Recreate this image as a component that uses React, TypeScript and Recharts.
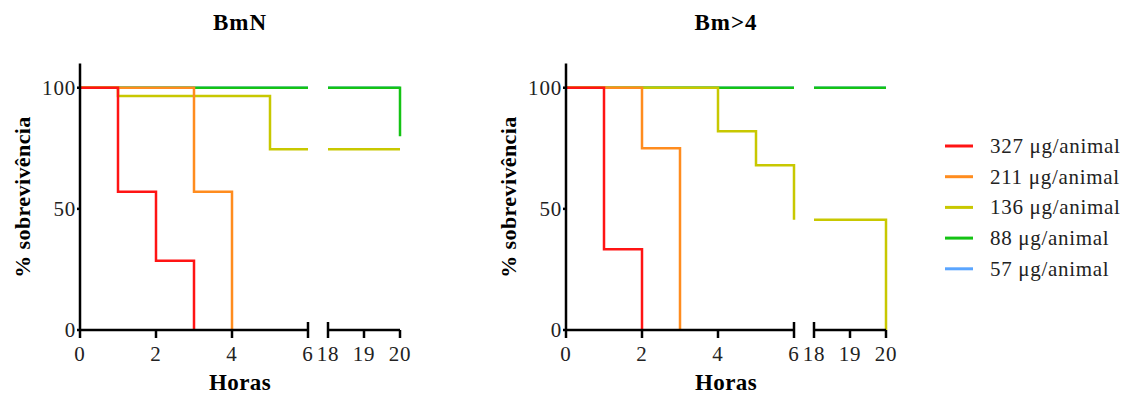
import React from "react";
import { LineChart, Line, XAxis, YAxis } from "recharts";

type Pt = [number, number];

// dose groups (legend order)
const doseLabels = ["327 μg/animal", "211 μg/animal", "136 μg/animal", "88 μg/animal", "57 μg/animal"];
const doseColors = ["#ff1414", "#ff8c1e", "#c8c800", "#14c314", "#5aa5ff"];

// survival curves: [hour, % survival] at each step
const bmn327: Pt[] = [[0, 100], [1, 57.1], [2, 28.6], [3, 0]];
const bmn211: Pt[] = [[0, 100], [3, 57.1], [4, 0]];
const bmn136: Pt[] = [[0, 100], [1, 96.6], [5, 74.6], [20, 74.6]];
const bmn88: Pt[] = [[0, 100], [20, 80]];
const bmn57: Pt[] = [[0, 100], [20, 100]];

const bm4_327: Pt[] = [[0, 100], [1, 33.3], [2, 0]];
const bm4_211: Pt[] = [[0, 100], [2, 75], [3, 0]];
const bm4_136: Pt[] = [[0, 100], [4, 82], [5, 68], [6, 45.5], [20, 0]];
const bm4_88: Pt[] = [[0, 100], [20, 100]];
const bm4_57: Pt[] = [[0, 100], [20, 100]];

const ticksEarly = [0, 2, 4, 6];
const ticksLate = [18, 19, 20];
const yTicks = [0, 50, 100];

const FONT = '"Liberation Serif", "Times New Roman", serif';
const TOP = 63.5;
const BOTTOM = 330;
const H = 394;
const XH = 50;
const AXIS = { stroke: "#000", strokeWidth: 2.5 };
const drawOrder = [4, 3, 2, 1, 0]; // red ends up on top

// cut a step curve to one side of the broken axis
function segment(points: Pt[], lo: number, hi: number): Pt[] {
  const inside = points.filter((p) => p[0] >= lo && p[0] <= hi);
  const before = points.filter((p) => p[0] < lo);
  const after = points.filter((p) => p[0] > hi);
  const res: Pt[] = [];
  if (before.length && (inside.length || after.length) && (!inside.length || inside[0][0] > lo)) {
    res.push([lo, before[before.length - 1][1]]);
  }
  res.push(...inside);
  if (after.length && res.length && res[res.length - 1][0] < hi) {
    res.push([hi, res[res.length - 1][1]]);
  }
  return res;
}

const toRows = (pts: Pt[]) => pts.map(([h, s]) => ({ h, s }));

function XTick(props: any) {
  const { x, y, payload, breakAt } = props;
  return (
    <g>
      {payload.value === breakAt && (
        <line x1={x} x2={x} y1={BOTTOM - 8} y2={BOTTOM} stroke="#000" strokeWidth={2.5} />
      )}
      <text x={x} y={y} dy="0.71em" textAnchor="middle" fontSize={21} letterSpacing={0.8} fill="#222" fontFamily={FONT}>
        {payload.value}
      </text>
    </g>
  );
}

function YTick(props: any) {
  const { x, y, payload } = props;
  return (
    <text x={x} y={y} dy="0.35em" textAnchor="end" fontSize={21} letterSpacing={0.8} fill="#222" fontFamily={FONT}>
      {payload.value}
    </text>
  );
}

function Panel({ ox, series }: { ox: number; series: Pt[][] }) {
  return (
    <>
      <div style={{ position: "absolute", left: ox, top: 0 }}>
        <LineChart width={320} height={H} margin={{ top: TOP, right: 12, left: 0, bottom: H - BOTTOM - XH }}>
          <XAxis
            type="number"
            dataKey="h"
            domain={[0, 6]}
            ticks={ticksEarly}
            height={XH}
            axisLine={AXIS}
            tickLine={AXIS}
            tickSize={8}
            tickMargin={8}
            tick={(p: any) => <XTick {...p} breakAt={6} />}
          />
          <YAxis
            type="number"
            domain={[0, 110]}
            ticks={yTicks}
            width={80}
            axisLine={AXIS}
            tickLine={AXIS}
            tickSize={3}
            tickMargin={1}
            tick={(p: any) => <YTick {...p} />}
          />
          {drawOrder.map((i) => (
            <Line
              key={i}
              data={toRows(segment(series[i], 0, 6))}
              dataKey="s"
              type="stepAfter"
              stroke={doseColors[i]}
              strokeWidth={2.5}
              dot={false}
              isAnimationActive={false}
            />
          ))}
        </LineChart>
      </div>
      <div style={{ position: "absolute", left: ox + 318, top: 0 }}>
        <LineChart width={97} height={H} margin={{ top: TOP, right: 15, left: 10, bottom: H - BOTTOM - XH }}>
          <XAxis
            type="number"
            dataKey="h"
            domain={[18, 20]}
            ticks={ticksLate}
            height={XH}
            axisLine={AXIS}
            tickLine={AXIS}
            tickSize={8}
            tickMargin={8}
            tick={(p: any) => <XTick {...p} breakAt={18} />}
          />
          <YAxis type="number" domain={[0, 110]} hide />
          {drawOrder.map((i) => (
            <Line
              key={i}
              data={toRows(segment(series[i], 18, 20))}
              dataKey="s"
              type="stepAfter"
              stroke={doseColors[i]}
              strokeWidth={2.5}
              dot={false}
              isAnimationActive={false}
            />
          ))}
        </LineChart>
      </div>
    </>
  );
}

const panels = [
  { title: "BmN", ox: 0, series: [bmn327, bmn211, bmn136, bmn88, bmn57] },
  { title: "Bm>4", ox: 486, series: [bm4_327, bm4_211, bm4_136, bm4_88, bm4_57] },
];

export default function App() {
  return (
    <div style={{ position: "absolute", left: 0, top: 0, width: 1128, height: H, background: "#fff", overflow: "hidden" }}>
      {panels.map((p) => (
        <Panel key={p.title} ox={p.ox} series={p.series} />
      ))}
      <svg width={1128} height={H} style={{ position: "absolute", left: 0, top: 0, pointerEvents: "none" }}>
        {panels.map((p) => (
          <g key={p.title} fontFamily={FONT} fontWeight="bold" fill="#000">
            <text x={p.ox + 240} y={22} textAnchor="middle" dominantBaseline="central" fontSize={23} letterSpacing={1}>
              {p.title}
            </text>
            <text x={p.ox + 240} y={382} textAnchor="middle" dominantBaseline="central" fontSize={23} letterSpacing={0.4}>
              Horas
            </text>
            <text
              x={p.ox + 22}
              y={197}
              textAnchor="middle"
              dominantBaseline="central"
              fontSize={22}
              letterSpacing={0.4}
              transform={`rotate(-90 ${p.ox + 22} 197)`}
            >
              % sobrevivência
            </text>
          </g>
        ))}
        {doseLabels.map((name, i) => {
          const cy = 146 + i * 30.7;
          return (
            <g key={name}>
              <line x1={945} x2={973} y1={cy} y2={cy} stroke={doseColors[i]} strokeWidth={3} />
              <text x={990} y={cy} dominantBaseline="central" fontSize={21} letterSpacing={0.7} fill="#222" fontFamily={FONT}>
                {name}
              </text>
            </g>
          );
        })}
      </svg>
    </div>
  );
}
